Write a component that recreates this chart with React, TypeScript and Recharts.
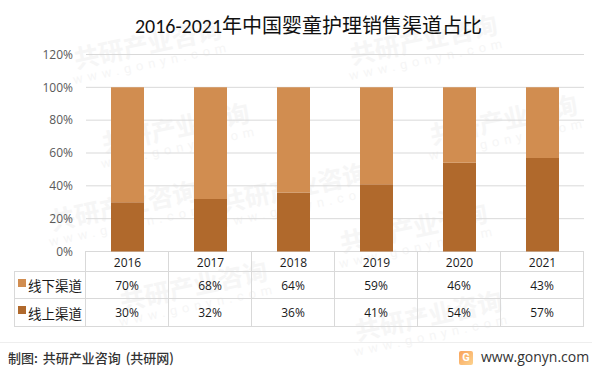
import React from 'react';
import { BarChart, Bar, XAxis, YAxis, CartesianGrid } from 'recharts';

const years = ['2016', '2017', '2018', '2019', '2020', '2021'];
const offlineShare = [70, 68, 64, 59, 46, 43];
const onlineShare = [30, 32, 36, 41, 54, 57];
const yTicks = [0, 20, 40, 60, 80, 100, 120];

const chartData = years.map((year, i) => ({
  year,
  offline: offlineShare[i],
  online: onlineShare[i],
}));

const OFFLINE_COLOR = '#d18d50';
const ONLINE_COLOR = '#b0692c';
const BORDER = '#d9d9d9';
const CJK = '"Noto Sans CJK SC", sans-serif';

const rows = [
  { name: '线下渠道', color: OFFLINE_COLOR, values: offlineShare, top: 271, height: 27 },
  { name: '线上渠道', color: ONLINE_COLOR, values: onlineShare, top: 298, height: 28 },
];

// Faint site marks behind the chart
const marks = [
  [64, 28], [92, 112], [340, 24], [420, 104], [210, 172], [40, 190], [330, 212], [110, 270], [345, 300],
];

function Watermark({ x, y }: { x: number; y: number }) {
  return (
    <div
      style={{
        position: 'absolute',
        left: x,
        top: y,
        width: 170,
        transform: 'rotate(-12deg)',
        color: '#f6f6f6',
        fontFamily: CJK,
        textAlign: 'center',
        whiteSpace: 'nowrap',
      }}
    >
      <div style={{ fontSize: 25, fontWeight: 700, lineHeight: '28px' }}>共研产业咨询</div>
      <div style={{ fontSize: 13, letterSpacing: 5, lineHeight: '16px', fontFamily: 'Roboto' }}>www.gonyn.com</div>
    </div>
  );
}

function Cell({ left, top, width, height, children }: any) {
  return (
    <div
      style={{
        position: 'absolute',
        left,
        top,
        width,
        height,
        boxSizing: 'border-box',
        border: `1px solid ${BORDER}`,
        display: 'flex',
        alignItems: 'center',
        justifyContent: 'center',
        fontSize: 12,
        color: '#1a1a1a',
      }}
    >
      {children}
    </div>
  );
}

export default function App() {
  const plotLeft = 85;
  const colWidth = 83;

  return (
    <div
      style={{
        position: 'absolute',
        left: 0,
        top: 0,
        width: 602,
        height: 375,
        overflow: 'hidden',
        background: '#fff',
        fontFamily: '"Open Sans", "Noto Sans CJK SC", sans-serif',
      }}
    >
      {marks.map(([x, y], i) => (
        <Watermark key={i} x={x} y={y} />
      ))}

      <div
        style={{
          position: 'absolute',
          left: 0,
          top: 12,
          width: 617,
          textAlign: 'center',
          fontSize: 20,
          lineHeight: '28px',
          color: '#111',
          fontFamily: 'Carlito, "Liberation Sans", "Noto Sans CJK SC", sans-serif',
        }}
      >
        2016-2021年中国婴童护理销售渠道占比
      </div>

      {/* Data table below the plot; years come from the x axis */}
      {years.map((y, i) => (
        <Cell key={y} left={plotLeft + i * colWidth} top={251} width={colWidth + 1} height={21} />
      ))}
      {rows.map((row) => (
        <React.Fragment key={row.name}>
          <Cell left={14} top={row.top} width={plotLeft - 14 + 1} height={row.height + 1}>
            <span style={{ width: 8, height: 8, background: row.color, marginRight: 2, marginTop: -5 }} />
            <span style={{ fontFamily: CJK, fontSize: 13.5 }}>{row.name}</span>
          </Cell>
          {row.values.map((v, i) => (
            <Cell key={i} left={plotLeft + i * colWidth} top={row.top} width={colWidth + 1} height={row.height + 1}>
              {v}%
            </Cell>
          ))}
        </React.Fragment>
      ))}

      <div style={{ position: 'absolute', left: 0, top: 342, width: 592, height: 1, background: '#eeeeee' }} />
      <div
        style={{
          position: 'absolute',
          left: 8,
          top: 348,
          fontFamily: CJK,
          fontSize: 13,
          fontWeight: 500,
          lineHeight: '20px',
          color: '#333',
          wordSpacing: 2,
        }}
      >
        制图: 共研产业咨询 (共研网)
      </div>
      <div
        style={{
          position: 'absolute',
          left: 459,
          top: 351,
          width: 14,
          height: 14,
          borderRadius: 2,
          background: 'linear-gradient(135deg, #f9a35a, #fcd28e)',
          color: '#fff',
          fontSize: 11,
          fontWeight: 700,
          lineHeight: '14px',
          textAlign: 'center',
          fontFamily: 'Roboto',
        }}
      >
        G
      </div>
      <div
        style={{
          position: 'absolute',
          left: 481,
          top: 347,
          fontFamily: '"Open Sans"',
          fontSize: 14,
          lineHeight: '20px',
          color: '#333',
        }}
      >
        www.gonyn.com
      </div>

      <div style={{ position: 'absolute', left: 0, top: 0 }}>
        <BarChart
          width={602}
          height={375}
          data={chartData}
          barSize={33}
          margin={{ top: 54.5, right: 18, bottom: 103.5, left: 0 }}
        >
          <CartesianGrid vertical={false} stroke={BORDER} />
          <XAxis
            dataKey="year"
            height={20}
            axisLine={false}
            tickLine={false}
            tick={{ fontSize: 12, fill: '#1a1a1a' }}
            tickMargin={1}
          />
          <YAxis
            width={86}
            domain={[0, 120]}
            ticks={yTicks}
            tickFormatter={(v) => `${v}%`}
            axisLine={false}
            tickLine={false}
            tickMargin={3}
            tick={{ fontSize: 12, fill: '#595959', dx: -4 }}
          />
          <Bar dataKey="online" stackId="share" fill={ONLINE_COLOR} isAnimationActive={false} />
          <Bar dataKey="offline" stackId="share" fill={OFFLINE_COLOR} isAnimationActive={false} />
        </BarChart>
      </div>
    </div>
  );
}
